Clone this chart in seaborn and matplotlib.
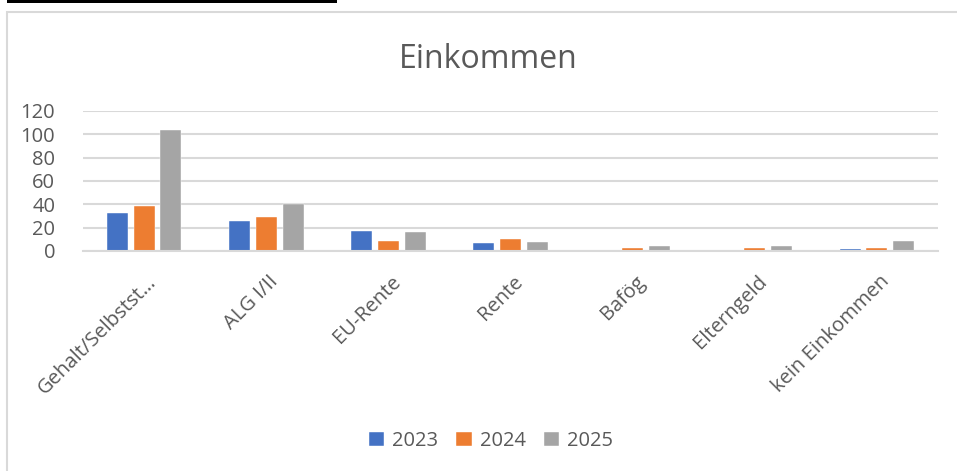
import matplotlib
matplotlib.use("Agg")
import matplotlib.pyplot as plt
import matplotlib.transforms as mtransforms
import seaborn as sns
import pandas as pd
from matplotlib.patches import Rectangle

categories = ["Gehalt/Selbstst…", "ALG I/II", "EU-Rente", "Rente", "Bafög", "Elterngeld", "kein Einkommen"]
years = ["2023", "2024", "2025"]
v2023 = [33, 26, 17, 7, 0, 1, 2]
v2024 = [39, 29, 9, 10, 3, 3, 3]
v2025 = [104, 40, 16, 8, 4, 4, 9]
yticks = [0, 20, 40, 60, 80, 100, 120]
colors = ["#4472C4", "#ED7D31", "#A5A5A5"]
title = "Einkommen"

rows = []
for yr, vals in zip(years, [v2023, v2024, v2025]):
    for c, v in zip(categories, vals):
        rows.append({"cat": c, "val": v, "year": yr})
df = pd.DataFrame(rows)

sns.set_theme(style="white")
plt.rcParams["font.family"] = ["Open Sans", "DejaVu Sans"]
txt = "#595959"

fig = plt.figure(figsize=(9.57, 4.71), dpi=100)
ax = fig.add_axes([83/957, 1-251/471, (938-83)/957, 140/471])

sns.barplot(data=df, x="cat", y="val", hue="year", palette=colors, order=categories,
            hue_order=years, width=0.66, gap=0.22, ax=ax, saturation=1,
            edgecolor="white", linewidth=0.3, errorbar=None)

ax.set_ylim(0, 120)
ax.set_xlim(-0.5, len(categories) - 0.5)
ax.set_yticks(yticks)
ax.set_yticklabels([str(t) for t in yticks], color=txt, fontsize=14.5)
ax.yaxis.grid(True, color="#D9D9D9", linewidth=1.5)
ax.set_axisbelow(True)
for s in ["top", "right", "left"]:
    ax.spines[s].set_visible(False)
ax.spines["bottom"].set_color("#D9D9D9")
ax.spines["bottom"].set_linewidth(1.5)
ax.tick_params(axis="y", length=0, pad=20)
ax.tick_params(axis="x", length=0, pad=15)
ax.set_xlabel("")
ax.set_ylabel("")
ax.set_xticks(range(len(categories)))
ax.set_xticklabels(categories, rotation=45, ha="right", va="top", rotation_mode="anchor",
                   color=txt, fontsize=14.5)
offset = mtransforms.ScaledTranslation(2/100, 0, fig.dpi_scale_trans)
for lab in ax.get_xticklabels():
    lab.set_transform(lab.get_transform() + offset)

handles, labels = ax.get_legend_handles_labels()
ax.legend_.remove()
fig.legend(handles, labels, loc="center", bbox_to_anchor=(491/957, 1-441/471), ncol=3,
           frameon=False, fontsize=14.5, labelcolor=txt, handlelength=0.75, handleheight=0.75,
           handletextpad=0.4, columnspacing=0.9)

fig.text(488/957, 1-59/471, title, ha="center", va="center", fontsize=23, color=txt)

fig.patches.append(Rectangle((7/957, -0.1), 1.2, 1.1 - 12/471, transform=fig.transFigure,
                             fill=False, edgecolor="#D9D9D9", linewidth=1.5, zorder=0))
fig.patches.append(Rectangle((7/957, 1-3/471), 330/957, 3/471, transform=fig.transFigure,
                             facecolor="black", edgecolor="none", zorder=1))

fig.savefig("out.png", dpi=100, facecolor="white")
